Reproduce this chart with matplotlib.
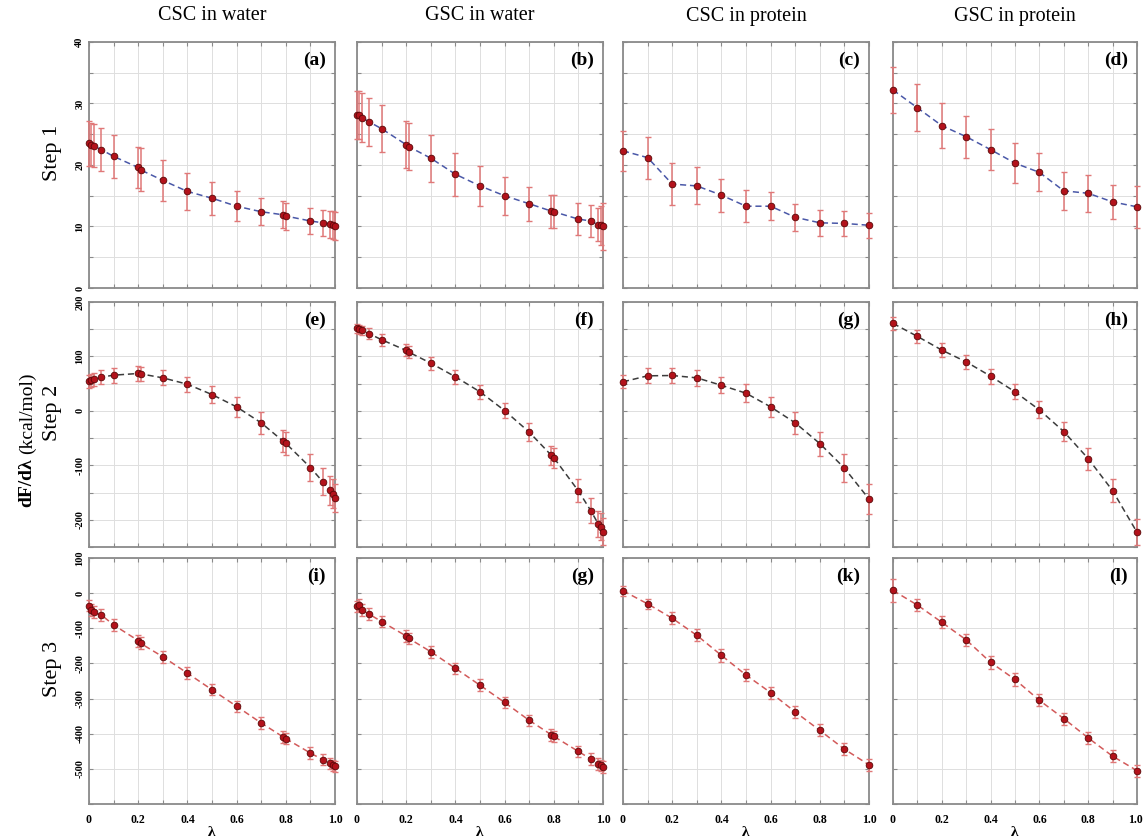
import matplotlib
matplotlib.use("Agg")
import matplotlib.pyplot as plt
import matplotlib.transforms as mtransforms
from matplotlib.ticker import FixedLocator, FixedFormatter

plt.rcParams['font.family'] = ['Liberation Serif', 'DejaVu Serif']

# ---------- data: dF/dλ (kcal/mol) vs λ ----------
lam_fine = [0, 0.01, 0.02, 0.05, 0.1, 0.2, 0.21, 0.3, 0.4, 0.5, 0.6, 0.7,
            0.79, 0.8, 0.9, 0.95, 0.98, 0.99, 1.0]
lam_coarse = [0, 0.1, 0.2, 0.3, 0.4, 0.5, 0.6, 0.7, 0.8, 0.9, 1.0]

# step 1
a_y = [23.5, 23.3, 23.1, 22.5, 21.4, 19.6, 19.2, 17.5, 15.7, 14.6, 13.3, 12.4,
       11.9, 11.7, 10.9, 10.6, 10.4, 10.2, 10.1]
a_err = [3.6, 3.5, 3.5, 3.5, 3.5, 3.4, 3.5, 3.3, 3.0, 2.7, 2.4, 2.2,
         2.2, 2.2, 2.1, 2.1, 2.2, 2.3, 2.3]
b_y = [28.2, 28.1, 27.7, 27.0, 25.9, 23.3, 23.0, 21.1, 18.5, 16.6, 15.0, 13.7,
       12.5, 12.4, 11.2, 10.9, 10.3, 10.2, 10.0]
b_err = [3.9, 3.9, 4.0, 3.9, 3.8, 3.8, 3.8, 3.8, 3.5, 3.3, 3.1, 2.8,
         2.7, 2.7, 2.6, 2.6, 2.7, 3.2, 3.8]
c_y = [22.3, 21.2, 16.9, 16.6, 15.1, 13.3, 13.3, 11.5, 10.6, 10.5, 10.2]
c_err = [3.3, 3.4, 3.4, 3.0, 2.7, 2.6, 2.3, 2.2, 2.1, 2.0, 2.0]
d_y = [32.2, 29.3, 26.4, 24.6, 22.5, 20.3, 18.8, 15.8, 15.4, 14.0, 13.2]
d_err = [3.8, 3.8, 3.7, 3.4, 3.3, 3.2, 3.1, 3.1, 3.0, 2.7, 3.4]

# step 2
e_y = [54.6, 56.4, 57.7, 62.0, 65.6, 68.7, 68.0, 60.7, 49.0, 30.0, 7.4, -22.0,
       -56.0, -59.5, -104.0, -130.0, -146.0, -152.0, -160.0]
e_err = [12, 12, 12, 13, 13.5, 13.5, 13.5, 14, 14, 15.5, 18, 20,
         20, 21, 24, 25, 26, 26, 26]
f_y = [151.5, 149.7, 148.0, 141.7, 130.7, 111.0, 108.0, 87.7, 62.6, 35.0, 0.6, -39.0,
       -81.6, -86.0, -147.0, -183.0, -207.0, -213.0, -222.0]
f_err = [8, 8, 8, 10, 11, 11, 11, 12, 12.5, 12.5, 14.5, 16,
         18, 18, 21, 23, 24, 25, 25]
g_y = [53.4, 64.4, 65.0, 60.7, 47.0, 32.5, 7.4, -22.0, -60.0, -105.0, -162.0]
g_err = [12, 14, 14.5, 15, 15, 16.5, 18, 20, 22, 25, 28]
h_y = [160.7, 136.8, 111.7, 90.0, 63.8, 35.0, 1.8, -38.0, -87.7, -146.6, -223.0]
h_err = [12, 12, 12.5, 13, 13.5, 14, 15.5, 17, 20, 21, 24]

# step 3
i_y = [-36, -48.6, -55, -62, -90.5, -135, -143, -181, -227.6, -275, -322, -369.5,
       -409.5, -414, -455, -474, -484, -490, -493]
i_err = [16, 17, 17, 17, 17, 17, 17, 17, 16.5, 16, 16, 16.5,
         16.5, 16.5, 16, 16, 16, 16, 16]
j_y = [-38, -35, -47.6, -60, -81, -122, -128.6, -166.7, -214, -262, -311, -362,
       -403, -407.6, -450.5, -472, -486, -490, -495]
j_err = [17, 17, 17, 16.5, 16.5, 16.5, 16.5, 16.5, 16.5, 16.5, 16.5, 16.5,
         16.5, 16.5, 16, 16, 16, 16, 16]
k_y = [6.7, -30.5, -71.4, -120, -177, -233, -283, -338, -390.5, -444, -488.6]
k_err = [14, 15, 17, 17, 18, 17, 17, 18, 17, 16.5, 17]
l_y = [7.6, -34, -83, -133, -197, -245.7, -305, -357, -412, -464, -505]
l_err = [32, 16, 17, 17.5, 18, 17.5, 17, 17, 17, 16.5, 17]

col_titles = ["CSC in water", "GSC in water", "CSC in protein", "GSC in protein"]
row_titles = ["Step 1", "Step 2", "Step 3"]
panel_tags = [["(a)", "(b)", "(c)", "(d)"],
              ["(e)", "(f)", "(g)", "(h)"],
              ["(i)", "(g)", "(k)", "(l)"]]

x_ticks = [0, 0.1, 0.2, 0.3, 0.4, 0.5, 0.6, 0.7, 0.8, 0.9, 1.0]
x_ticklabels = ["0", "", "0.2", "", "0.4", "", "0.6", "", "0.8", "", "1.0"]

panels = [
    [(lam_fine, a_y, a_err), (lam_fine, b_y, b_err), (lam_coarse, c_y, c_err), (lam_coarse, d_y, d_err)],
    [(lam_fine, e_y, e_err), (lam_fine, f_y, f_err), (lam_coarse, g_y, g_err), (lam_coarse, h_y, h_err)],
    [(lam_fine, i_y, i_err), (lam_fine, j_y, j_err), (lam_coarse, k_y, k_err), (lam_coarse, l_y, l_err)],
]

row_ylim = [(0, 40), (-250, 200), (-600, 100)]
row_ystep = [5, 50, 100]
row_ylabels = [[0, 10, 20, 30, 40], [-200, -100, 0, 100, 200], [-500, -400, -300, -200, -100, 0, 100]]
row_line = ["#4a58a8", "#3c3c3c", "#d25a5a"]

# ---------- layout (pixels) ----------
W, H = 1144, 838
COL_X = [89, 357, 623, 893]
COL_W = [246, 246, 246, 244]
ROW_Y = [(42, 288), (302, 547), (558, 804)]

fig = plt.figure(figsize=(W / 100, H / 100), dpi=100)

for r in range(3):
    top, bot = ROW_Y[r]
    lo, hi = row_ylim[r]
    step = row_ystep[r]
    yticks = [lo + step * n for n in range(int(round((hi - lo) / step)) + 1)]
    ylabs = [str(int(t)) if int(t) in row_ylabels[r] else "" for t in yticks]
    for c in range(4):
        ax = fig.add_axes([COL_X[c] / W, 1 - bot / H, COL_W[c] / W, (bot - top) / H])
        x, y, err = panels[r][c]

        ax.plot(x, y, ls=(0, (4, 2.5)), color=row_line[r], lw=1.1, zorder=2)
        ax.errorbar(x, y, yerr=err, fmt="none", ecolor="#e07878", elinewidth=1.1,
                    capsize=2.4, capthick=1.0, zorder=3, clip_on=False)
        ax.plot(x, y, "o", ms=4.8, mfc="#b3121b", mec="#5a0808", mew=0.6,
                zorder=4, clip_on=False)

        ax.set_xlim(0, 1)
        ax.set_ylim(lo, hi)
        ax.xaxis.set_major_locator(FixedLocator(x_ticks))
        ax.yaxis.set_major_locator(FixedLocator(yticks))
        ax.grid(True, color="#dedede", lw=0.7)
        ax.set_axisbelow(True)
        for s in ax.spines.values():
            s.set_color("#8a8a8a")
            s.set_linewidth(1.3)
        ax.tick_params(direction="in", length=3, width=0.8, color="#8a8a8a",
                       top=True, right=True, labelsize=8.5)
        ax.tick_params(axis="x", pad=7)

        if c == 0:
            ax.yaxis.set_major_formatter(FixedFormatter(ylabs))
            for lab in ax.get_yticklabels():
                lab.set_rotation(90)
                lab.set_fontweight("bold")
                lab.set_fontsize(7.5)
                lab.set_va("center")
        else:
            ax.tick_params(labelleft=False)

        if r == 2:
            ax.xaxis.set_major_formatter(FixedFormatter(x_ticklabels))
            labs = ax.get_xticklabels()
            for lab in labs:
                lab.set_fontweight("bold")
            if c == 3:
                # keep the last label inside the figure edge
                last = labs[-1]
                last.set_ha("right")
                last.set_transform(last.get_transform() +
                                   mtransforms.ScaledTranslation(4 / 72, 0, fig.dpi_scale_trans))
            fig.text((COL_X[c] + COL_W[c] / 2) / W, 1 - 826 / H, "λ", ha="center", va="top",
                     fontsize=11, fontweight="bold")
        else:
            ax.tick_params(labelbottom=False)

        ax.text(0.963, 0.927, panel_tags[r][c], transform=ax.transAxes, ha="right",
                va="center", fontsize=14, fontweight="bold")

# column and row headings
for c in range(4):
    fig.text((COL_X[c] + COL_W[c] / 2) / W, 1 - 16 / H, col_titles[c], ha="center",
             va="center", fontsize=14.5)
for r in range(3):
    top, bot = ROW_Y[r]
    fig.text(52 / W, 1 - ((top + bot) / 2 - 12) / H, row_titles[r], rotation=90,
             ha="center", va="center", fontsize=16)

fig.text(27 / W, 1 - 458 / H, "dF/dλ", rotation=90, ha="center", va="top",
         fontsize=14, fontweight="bold")
fig.text(27 / W, 1 - 454 / H, "(kcal/mol)", rotation=90, ha="center", va="bottom",
         fontsize=14)

fig.savefig("out.png", dpi=100)
